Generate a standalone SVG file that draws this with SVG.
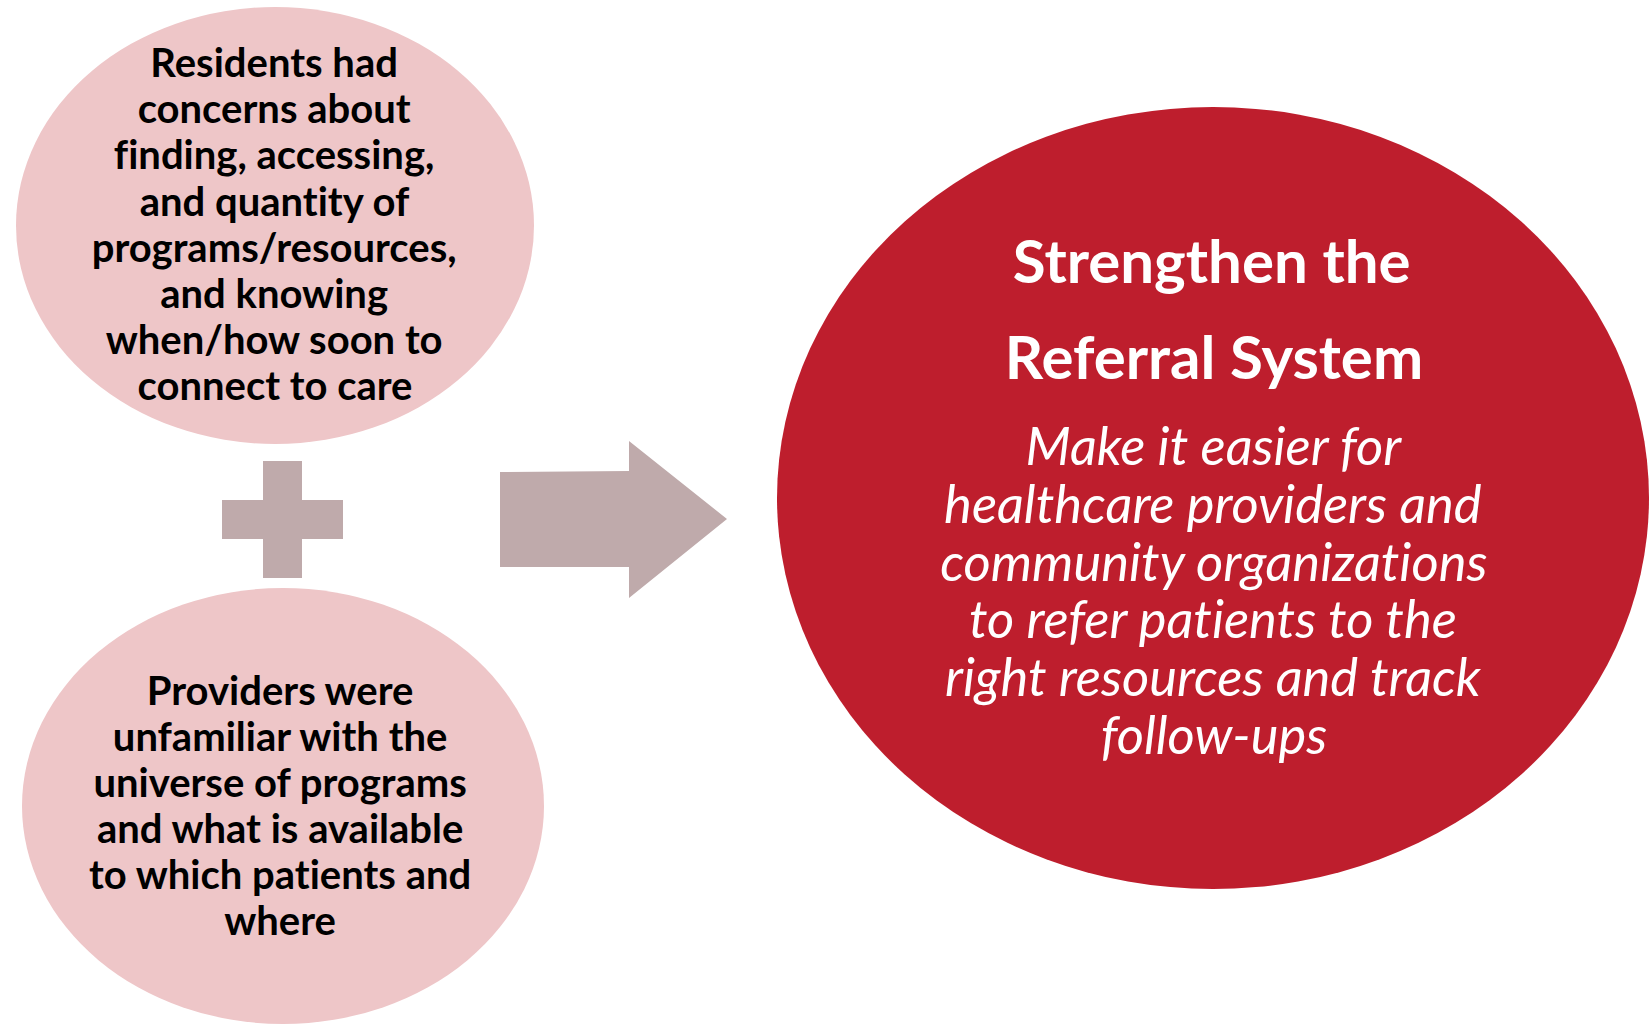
<svg xmlns="http://www.w3.org/2000/svg" width="1650" height="1024" viewBox="0 0 1650 1024">
  <style>
    .bg { fill: #ffffff; }
    .issue { fill: #EEC6C8; }
    .goal { fill: #BE1E2D; }
    .mark { fill: #BFAAAB; }
    text { font-variant-ligatures: none; }
    .issue-text { font-family: Lato, "Liberation Sans", sans-serif; font-weight: 700; font-size: 40px; fill: #000000; text-anchor: middle; }
    .goal-title { font-family: Lato, "Liberation Sans", sans-serif; font-weight: 700; font-size: 60px; fill: #ffffff; text-anchor: middle; }
    .goal-text { font-family: Lato, "Liberation Sans", sans-serif; font-style: italic; font-weight: 400; font-size: 52.5px; fill: #ffffff; text-anchor: middle; }
  </style>
  <rect class="bg" x="0" y="0" width="1650" height="1024"/>

  <!-- Resident concerns -->
  <g id="residents">
    <ellipse class="issue" cx="275" cy="225.5" rx="259" ry="218.5"/>
    <text class="issue-text">
      <tspan x="279" y="77">Residents had</tspan>
      <tspan x="279" y="123">concerns about</tspan>
      <tspan x="279" y="169">finding, accessing,</tspan>
      <tspan x="279" y="216">and quantity of</tspan>
      <tspan x="279" y="262">programs/resources,</tspan>
      <tspan x="279" y="308">and knowing</tspan>
      <tspan x="279" y="354">when/how soon to</tspan>
      <tspan x="275" y="400">connect to care</tspan>
    </text>
  </g>

  <!-- Plus sign joining the two concerns -->
  <g id="plus">
    <rect class="mark" x="263" y="461" width="39" height="117"/>
    <rect class="mark" x="222" y="500" width="121" height="39"/>
  </g>

  <!-- Provider concerns -->
  <g id="providers">
    <ellipse class="issue" cx="283" cy="806" rx="261" ry="218"/>
    <text class="issue-text">
      <tspan x="285" y="705">Providers were</tspan>
      <tspan x="285" y="751">unfamiliar with the</tspan>
      <tspan x="285" y="797">universe of programs</tspan>
      <tspan x="285" y="843">and what is available</tspan>
      <tspan x="285" y="889">to which patients and</tspan>
      <tspan x="280" y="935">where</tspan>
    </text>
  </g>

  <!-- Block arrow leading to the goal -->
  <g id="connectors">
    <polygon class="mark" points="500,472 629,471 629,441 727,519 629,598 629,567 500,567"/>
  </g>

  <!-- Goal -->
  <g id="goal">
    <ellipse class="goal" cx="1213" cy="498" rx="436" ry="391"/>
    <text class="goal-title">
      <tspan x="1219" y="283">Strengthen the</tspan>
      <tspan x="1214" y="379">Referral System</tspan>
    </text>
    <text class="goal-text">
      <tspan x="1219" y="465">Make it easier for</tspan>
      <tspan x="1219" y="523">healthcare providers and</tspan>
      <tspan x="1220" y="581">community organizations</tspan>
      <tspan x="1219" y="638">to refer patients to the</tspan>
      <tspan x="1219" y="696">right resources and track</tspan>
      <tspan x="1214" y="754">follow-ups</tspan>
    </text>
  </g>
</svg>
